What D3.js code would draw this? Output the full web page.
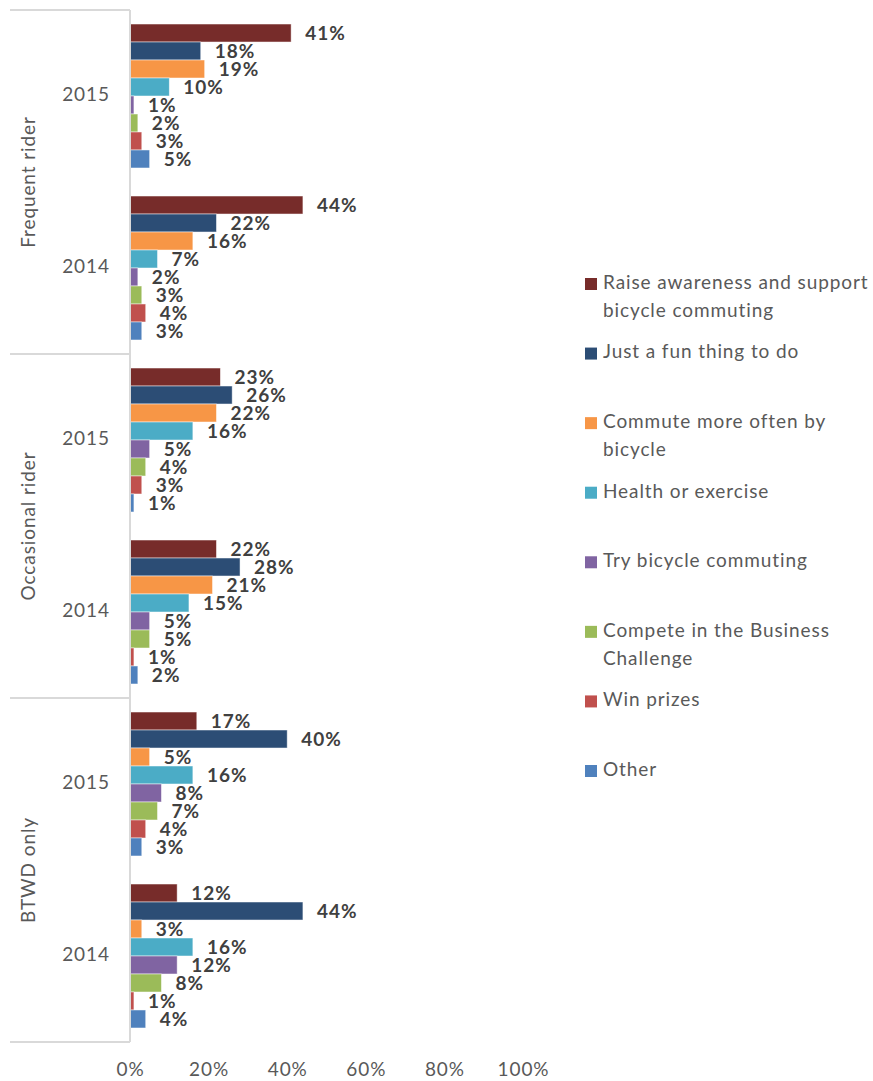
<!DOCTYPE html>
<html>
<head>
<meta charset="utf-8">
<script src="https://cdn.jsdelivr.net/npm/d3@7"></script>
<style>
  html, body { margin: 0; padding: 0; background: #fff; }
  svg { display: block; }
</style>
</head>
<body>
<svg id="chart" width="873" height="1081"></svg>
<script>
// Rider groups and survey years (top to bottom)
const groups = ["Frequent rider", "Occasional rider", "BTWD only"];
const years = ["2015", "2014"];

// Reasons for participating (series order, top bar first)
const seriesNames = [
  "Raise awareness and support bicycle commuting",
  "Just a fun thing to do",
  "Commute more often by bicycle",
  "Health or exercise",
  "Try bicycle commuting",
  "Compete in the Business Challenge",
  "Win prizes",
  "Other"
];
// Legend text split into display lines
const legendLines = [
  ["Raise awareness and support", "bicycle commuting"],
  ["Just a fun thing to do"],
  ["Commute more often by", "bicycle"],
  ["Health or exercise"],
  ["Try bicycle commuting"],
  ["Compete in the Business", "Challenge"],
  ["Win prizes"],
  ["Other"]
];
const seriesColors = ["#772C2A", "#2C4D75", "#F79646", "#4BACC6", "#8064A2", "#9BBB59", "#C0504D", "#4F81BD"];

// Percent values per group/year, in series order
const frequent2015 = [41, 18, 19, 10, 1, 2, 3, 5];
const frequent2014 = [44, 22, 16, 7, 2, 3, 4, 3];
const occasional2015 = [23, 26, 22, 16, 5, 4, 3, 1];
const occasional2014 = [22, 28, 21, 15, 5, 5, 1, 2];
const btwd2015 = [17, 40, 5, 16, 8, 7, 4, 3];
const btwd2014 = [12, 44, 3, 16, 12, 8, 1, 4];

const xTicks = [0, 20, 40, 60, 80, 100];

const rows = [
  { group: groups[0], year: years[0], values: frequent2015 },
  { group: groups[0], year: years[1], values: frequent2014 },
  { group: groups[1], year: years[0], values: occasional2015 },
  { group: groups[1], year: years[1], values: occasional2014 },
  { group: groups[2], year: years[0], values: btwd2015 },
  { group: groups[2], year: years[1], values: btwd2014 }
];
rows.forEach((r, i) => r.key = i);

const svg = d3.select("#chart");
const plot = { left: 130, right: 523, top: 10, bottom: 1042 };
const axisColor = "#D9D9D9";
const textColor = "#595959";
const font = "Lato, 'Open Sans', sans-serif";
const fontSize = 19;
const spacing = 0.9;

const x = d3.scaleLinear().domain([0, 100]).range([plot.left, plot.right]);
const yRow = d3.scaleBand().domain(rows.map(r => r.key)).range([plot.top, plot.bottom]).paddingInner(0.163).paddingOuter(0.0815);
const yBar = d3.scaleBand().domain(d3.range(seriesNames.length)).range([0, yRow.bandwidth()]);
const yGroup = d3.scaleBand().domain(groups).range([plot.top, plot.bottom]);

// Bars
const rowG = svg.append("g").selectAll("g").data(rows).join("g")
  .attr("transform", r => `translate(0,${yRow(r.key)})`);

rowG.selectAll("rect").data(r => r.values).join("rect")
  .attr("x", x(0))
  .attr("y", (d, i) => yBar(i))
  .attr("width", d => x(d) - x(0))
  .attr("height", yBar.bandwidth())
  .attr("fill", (d, i) => seriesColors[i])
  .attr("stroke", "#ffffff")
  .attr("stroke-opacity", 0.6)
  .attr("stroke-width", 0.8);

// Value labels
rowG.selectAll("text").data(r => r.values).join("text")
  .attr("x", d => x(d) + 14)
  .attr("y", (d, i) => yBar(i) + yBar.bandwidth() / 2 + 2.5)
  .attr("dominant-baseline", "middle")
  .attr("font-family", font)
  .attr("font-weight", "bold")
  .attr("font-size", fontSize)
  .attr("letter-spacing", 1)
  .attr("fill", "#404040")
  .text(d => d + "%");

// Category axis: vertical line and group separators
svg.append("line")
  .attr("x1", plot.left).attr("x2", plot.left)
  .attr("y1", plot.top).attr("y2", plot.bottom)
  .attr("stroke", axisColor).attr("stroke-width", 2);

const seps = groups.map(g => yGroup(g)).concat([plot.bottom]);
svg.append("g").selectAll("line").data(seps).join("line")
  .attr("x1", 10).attr("x2", plot.left)
  .attr("y1", d => d).attr("y2", d => d)
  .attr("stroke", axisColor).attr("stroke-width", 2);

// Year labels
svg.append("g").selectAll("text").data(rows).join("text")
  .attr("x", 86)
  .attr("y", r => yRow(r.key) + yRow.bandwidth() / 2)
  .attr("text-anchor", "middle")
  .attr("dominant-baseline", "middle")
  .attr("font-family", font)
  .attr("font-size", fontSize)
  .attr("letter-spacing", spacing)
  .attr("fill", textColor)
  .text(r => r.year);

// Group labels (rotated)
svg.append("g").selectAll("text").data(groups).join("text")
  .attr("transform", g => `translate(30,${yGroup(g) + yGroup.bandwidth() / 2}) rotate(-90)`)
  .attr("text-anchor", "middle")
  .attr("dominant-baseline", "middle")
  .attr("font-family", font)
  .attr("font-size", fontSize)
  .attr("letter-spacing", spacing)
  .attr("fill", textColor)
  .text(g => g);

// Value axis tick labels
const xAxis = svg.append("g")
  .attr("transform", `translate(0,${plot.bottom + 20})`)
  .call(d3.axisBottom(x).tickValues(xTicks).tickFormat(d => d + "%").tickSize(0).tickPadding(0));
xAxis.select(".domain").remove();
xAxis.selectAll("text")
  .attr("font-family", font)
  .attr("font-size", fontSize)
  .attr("letter-spacing", spacing)
  .attr("fill", textColor);

// Legend
const legendY = d3.scalePoint().domain(d3.range(seriesNames.length)).range([284, 771]);
const leg = svg.append("g").selectAll("g").data(seriesNames).join("g")
  .attr("transform", (d, i) => `translate(585,${legendY(i)})`);
leg.append("rect")
  .attr("x", 0).attr("y", -6).attr("width", 12).attr("height", 12)
  .attr("fill", (d, i) => seriesColors[i]);
leg.append("text")
  .attr("font-family", font)
  .attr("font-size", fontSize)
  .attr("letter-spacing", spacing)
  .attr("fill", textColor)
  .selectAll("tspan").data((d, i) => legendLines[i]).join("tspan")
  .attr("x", 18)
  .attr("y", (d, j) => j * 28)
  .attr("dominant-baseline", "middle")
  .text(d => d);
</script>
</body>
</html>
